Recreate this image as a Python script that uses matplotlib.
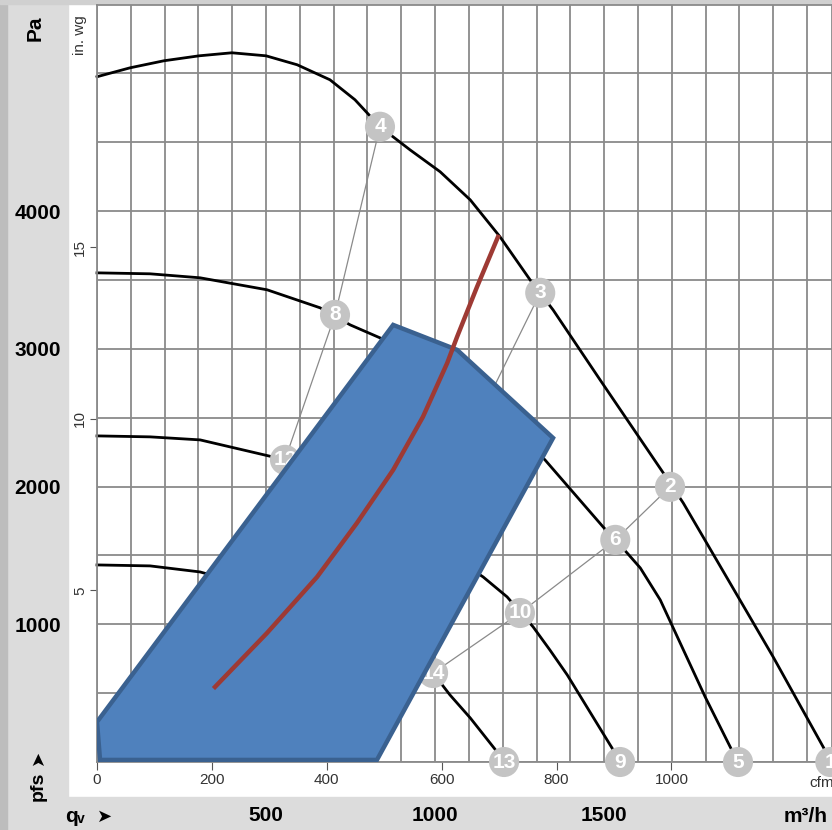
import numpy as np
import matplotlib
matplotlib.use("Agg")
import matplotlib.pyplot as plt
from matplotlib.patches import Polygon, Rectangle

plt.rcParams['font.family'] = ['Liberation Sans', 'DejaVu Sans']

# ---------------- data (m3/h, Pa) ----------------
curve1_q = [0, 98, 198, 302, 399, 500, 592, 689, 763, 837, 926, 1015, 1104, 1192, 1281, 1349, 1488, 1675, 1734, 1805, 2000, 2148, 2172]
curve1_p = [4976, 5041, 5092, 5128, 5150, 5128, 5063, 4954, 4809, 4613, 4445, 4286, 4082, 3814, 3501, 3283, 2775, 2099, 1881, 1583, 763, 109, 0]

curve2_q = [0, 157, 305, 503, 660, 749, 837, 956, 1074, 1207, 1325, 1497, 1568, 1607, 1666, 1725, 1799, 1873, 1896]
curve2_p = [3552, 3545, 3516, 3429, 3298, 3174, 3080, 2920, 2738, 2484, 2194, 1707, 1518, 1409, 1177, 864, 472, 109, 0]

curve3_q = [0, 157, 305, 521, 556, 719, 896, 1044, 1142, 1213, 1290, 1340, 1391, 1527, 1547]
curve3_p = [2368, 2361, 2339, 2215, 2194, 2012, 1758, 1504, 1344, 1199, 981, 812, 632, 87, 0]

curve4_q = [0, 157, 305, 453, 601, 749, 882, 994, 1044, 1104, 1172, 1207]
curve4_p = [1431, 1424, 1380, 1278, 1155, 995, 814, 646, 487, 320, 109, 0]

marker_labels = ['1', '2', '3', '4', '5', '6', '7', '8', '9', '10', '11', '12', '13', '14', '15', '16']
marker_q = [2169, 1695, 1311, 837, 1896, 1533, 1148, 704, 1547, 1251, 985, 556, 1204, 994, 778, 429]
marker_p = [0, 1998, 3407, 4613, 0, 1613, 2593, 3247, 0, 1082, 1576, 2194, 0, 646, 959, 1300]
link_groups = [['4', '8', '12', '16'], ['3', '7', '11', '15'], ['2', '6', '10', '14']]

range_q = [0, 9, 828, 1349, 1065, 876]
range_p = [291, 15, 15, 2353, 2993, 3174]

system_q = [349, 503, 651, 769, 876, 964, 1036, 1065, 1124, 1186]
system_p = [545, 937, 1344, 1736, 2121, 2506, 2898, 3087, 3450, 3813]

pa_ticks = [1000, 2000, 3000, 4000]
m3h_ticks = [500, 1000, 1500]
inwg_ticks = [5, 10, 15]
cfm_ticks = [0, 200, 400, 600, 800, 1000]

PA_PER_INWG = 249.089
M3H_PER_CFM = 1.69901

# ---------------- figure ----------------
W, H = 832, 830
fig = plt.figure(figsize=(W / 100, H / 100), dpi=100)
fig.patch.set_facecolor('white')


def px_rect(x0, y0, x1, y1, color):
    fig.patches.append(Rectangle((x0 / W, 1 - y1 / H), (x1 - x0) / W, (y1 - y0) / H,
                                 transform=fig.transFigure, color=color, zorder=-10))


px_rect(0, 0, 68, H, '#dcdcdc')
px_rect(0, 797, W, H, '#dcdcdc')
px_rect(0, 0, 7, H, '#bdbdbd')
px_rect(0, 0, W, 4, '#d0d0d0')

ax_l, ax_r, ax_t, ax_b = 97, 832, 5, 762
ax = fig.add_axes([ax_l / W, 1 - ax_b / H, (ax_r - ax_l) / W, (ax_b - ax_t) / H])
ax.set_facecolor('white')

xmax = 2174
ymax = 5497
ax.set_xlim(0, xmax)
ax.set_ylim(0, ymax)

grid_c = '#8a8a8a'
ax.set_xticks(np.arange(0, xmax, 100), minor=True)
ax.set_yticks(np.arange(0, ymax + 1, 500), minor=True)
ax.set_xticks(m3h_ticks)
ax.set_yticks(pa_ticks)
ax.grid(True, which='both', color=grid_c, lw=1.3, zorder=0)
ax.set_axisbelow(True)
ax.tick_params(which='both', length=0)
ax.tick_params(axis='x', which='major', pad=32, labelsize=15)
ax.tick_params(axis='y', which='major', pad=26, labelsize=15)
for lab in ax.get_xticklabels() + ax.get_yticklabels():
    lab.set_fontweight('bold')
for s in ax.spines.values():
    s.set_color(grid_c)
    s.set_linewidth(1.3)

# secondary inch wg axis
sec_y = ax.secondary_yaxis('left', functions=(lambda p: p / PA_PER_INWG, lambda w: w * PA_PER_INWG))
sec_y.set_yticks(inwg_ticks)
sec_y.tick_params(length=5, width=0.8, color='#555555', labelsize=11, labelcolor='#333333', pad=2)
for lab in sec_y.get_yticklabels():
    lab.set_rotation(90)
    lab.set_va('center')
sec_y.spines['left'].set_visible(False)

# secondary cfm axis
sec_x = ax.secondary_xaxis('bottom', functions=(lambda q: q / M3H_PER_CFM, lambda c: c * M3H_PER_CFM))
sec_x.set_xticks(cfm_ticks)
sec_x.tick_params(length=6, width=0.8, color='#555555', labelsize=11, labelcolor='#333333', pad=2)
sec_x.spines['bottom'].set_visible(False)
ax.text(1262 * M3H_PER_CFM, -100, 'cfm', ha='center', va='top', fontsize=11, color='#333333', clip_on=False)

# fan curves
for q, p in [(curve1_q, curve1_p), (curve2_q, curve2_p), (curve3_q, curve3_p), (curve4_q, curve4_p)]:
    ax.plot(q, p, color='black', lw=2.0, zorder=2, solid_joinstyle='round', clip_on=False)

# link lines
idx = {l: i for i, l in enumerate(marker_labels)}
for g in link_groups:
    ax.plot([marker_q[idx[l]] for l in g], [marker_p[idx[l]] for l in g],
            color='#8a8a8a', lw=0.9, zorder=2)

# circles
ax.scatter(marker_q, marker_p, s=470, color='#c4c4c4', edgecolors='none', zorder=3, clip_on=False)
for l, q, p in zip(marker_labels, marker_q, marker_p):
    ax.text(q, p, l, ha='center', va='center', fontsize=15, fontweight='bold',
            color='white', zorder=4, clip_on=False)

# operating range polygon
ax.add_patch(Polygon(list(zip(range_q, range_p)), closed=True, facecolor='#4f81bd',
                     edgecolor='#3a6190', lw=3.2, joinstyle='miter', zorder=5))

# system curve
ax.plot(system_q, system_p, color='#9e3a34', lw=3.2, zorder=6, solid_joinstyle='round')

# labels
fig.text(35 / W, 1 - 28 / H, 'Pa', rotation=90, ha='center', va='center', fontsize=15, fontweight='bold')
fig.text(80 / W, 1 - 35 / H, 'in. wg', rotation=90, ha='center', va='center', fontsize=11, color='#333333')
fig.text(38 / W, 1 - 801 / H, 'pfs', rotation=90, ha='center', va='bottom', fontsize=14, fontweight='bold')
fig.text(38 / W, 1 - 757 / H, '\u27a4', rotation=90, ha='center', va='center', fontsize=13,
         family='DejaVu Sans')
fig.text(65 / W, 1 - 816 / H, 'q', ha='left', va='center', fontsize=15, fontweight='bold')
fig.text(77 / W, 1 - 819 / H, 'v', ha='left', va='center', fontsize=10, fontweight='bold')
fig.text(97 / W, 1 - 817 / H, '\u27a4', ha='left', va='center', fontsize=13, family='DejaVu Sans')
fig.text(828 / W, 1 - 816 / H, 'm³/h', ha='right', va='center', fontsize=15, fontweight='bold')

fig.savefig('out.png', dpi=100)
